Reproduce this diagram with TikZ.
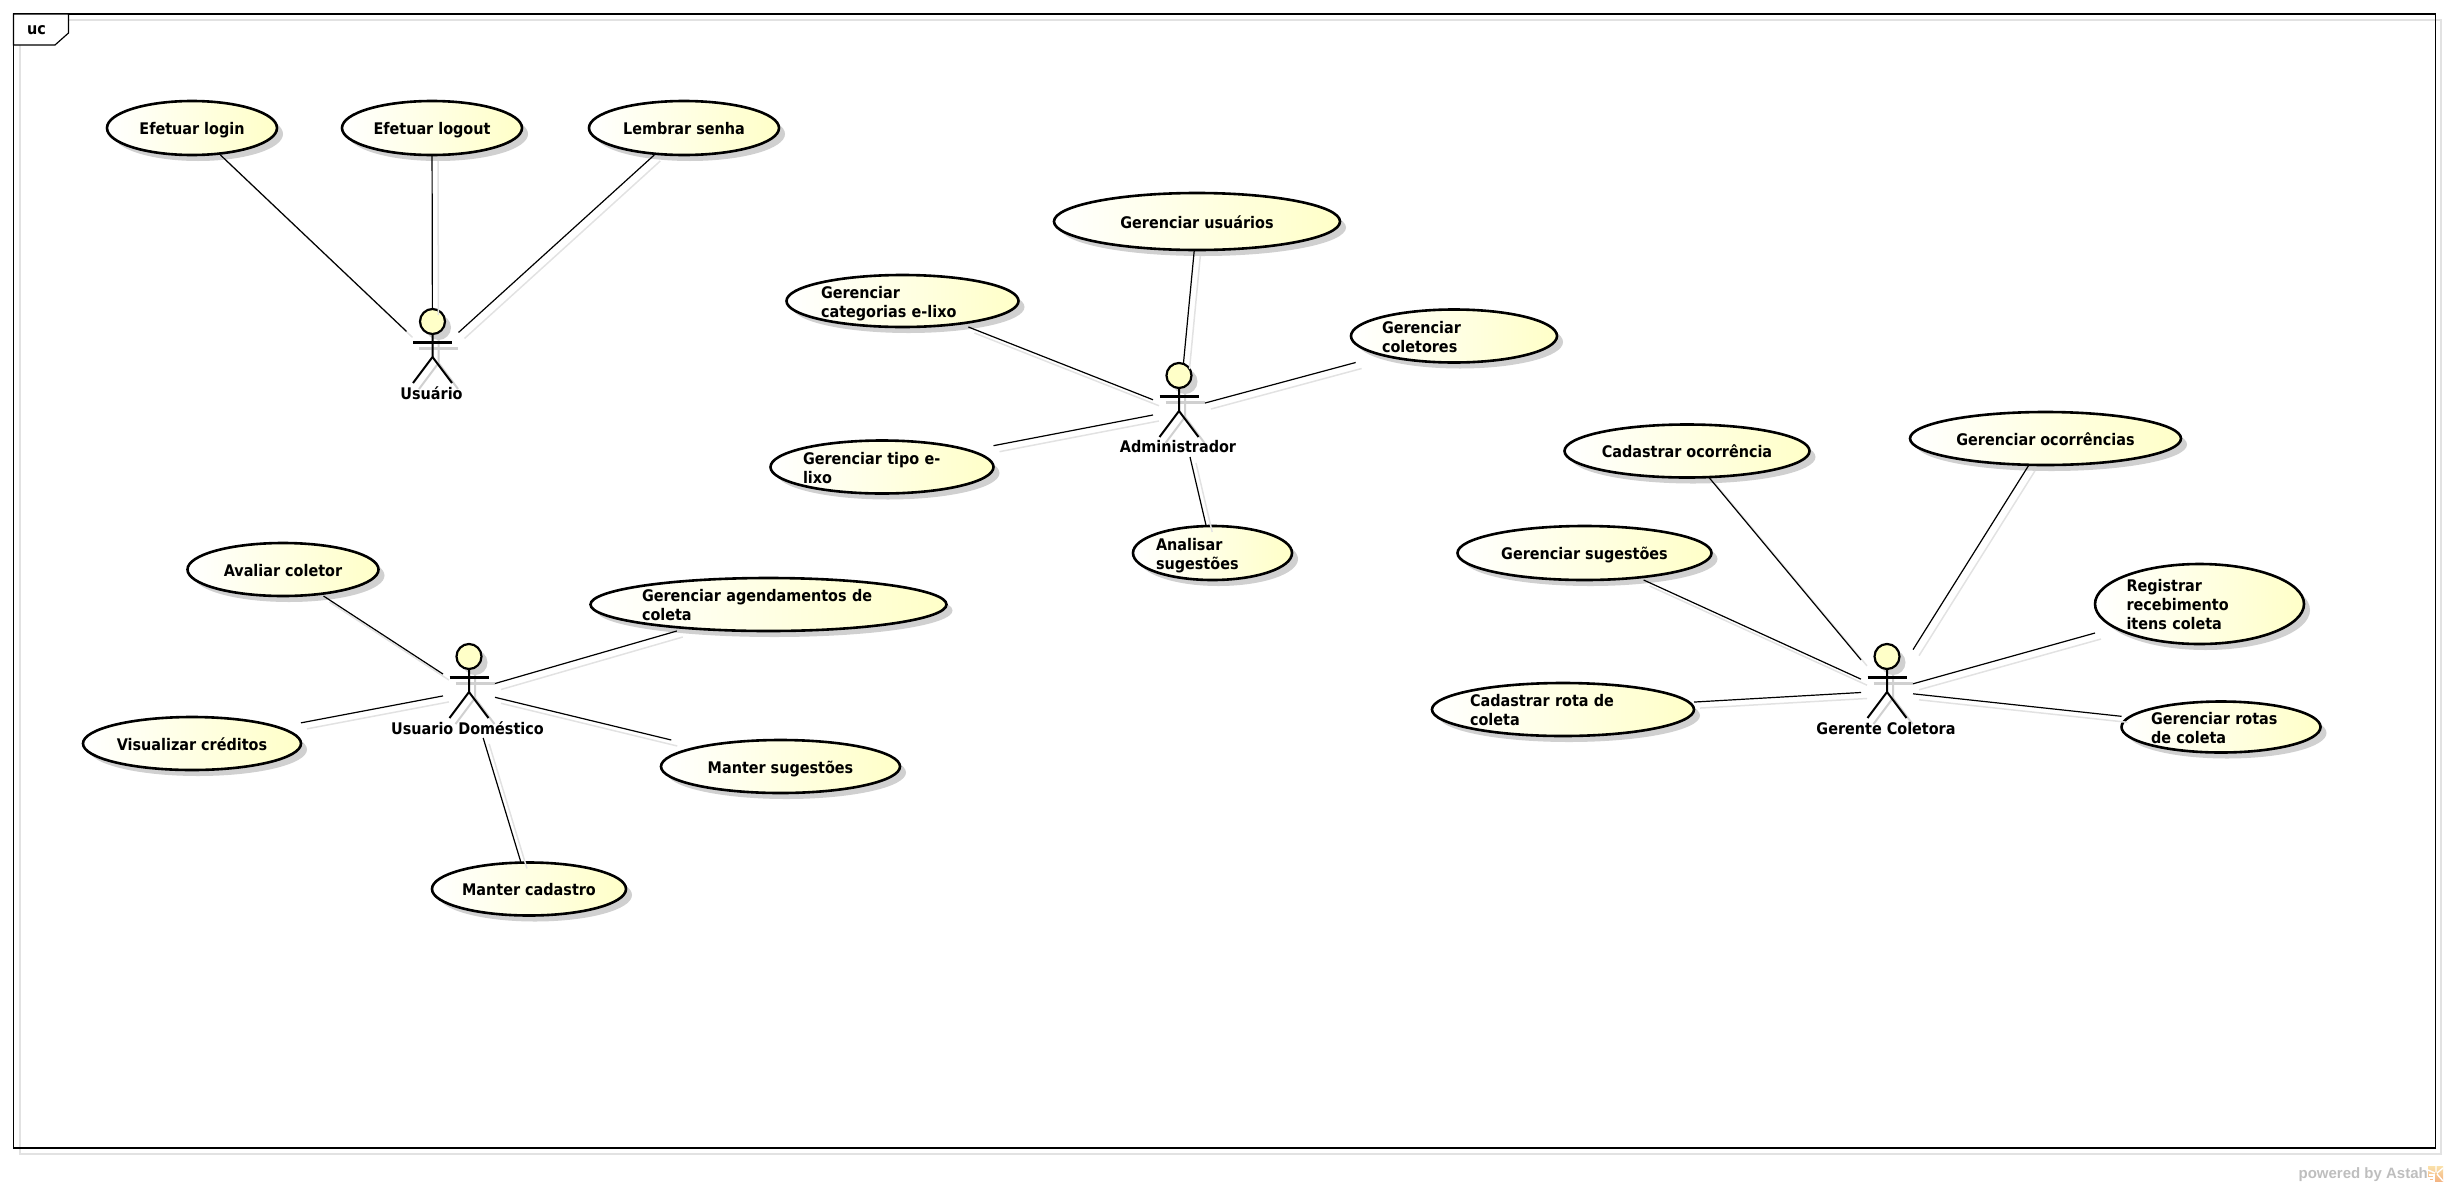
\documentclass[tikz,border=0pt]{standalone}
\usepackage{fontspec}
\setmainfont{DejaVu Sans Condensed}
\newfontfamily\astahfont{Liberation Sans}
\usepackage{tikz}
\usetikzlibrary{shapes.geometric,shadows,fit,positioning,calc}
\definecolor{ucyellow}{RGB}{255,255,200}
\definecolor{ucshadow}{RGB}{208,208,208}
\definecolor{ucrule}{RGB}{226,226,226}
\definecolor{astahgray}{RGB}{190,190,190}
\definecolor{astahorange}{RGB}{244,180,130}
\definecolor{astahyellow}{RGB}{250,225,170}
\tikzset{
  usecase/.style={ellipse,draw,line width=2.6pt,left color=white,right color=ucyellow,
    inner xsep=-4pt,inner ysep=-12pt,outer sep=0pt,font=\bfseries\fontsize{16}{19}\selectfont,
    execute at begin node=\rule[-4pt]{0pt}{21pt},execute at end node=\rule[-4pt]{0pt}{0pt},
    drop shadow={shadow xshift=6pt,shadow yshift=-6pt,fill=ucshadow,opacity=1}},
  ucbox/.style={rectangle,inner sep=0pt,outer sep=0pt},
  actorbox/.style={rectangle,minimum width=52pt,minimum height=94pt,inner sep=0pt,outer sep=0pt},
  actortext/.style={font=\bfseries\fontsize{16}{19}\selectfont,inner sep=0pt},
  assoc/.style={line width=1.2pt,preaction={draw=ucrule,line width=1.5pt,transform canvas={xshift=6pt,yshift=-6pt}}},
  stick/.pic={
    \begin{scope}[shift={(6,6)},draw=ucshadow,line width=2pt]
      \fill[ucshadow](0,12.5)circle(12.5pt);
      \draw[line width=3pt](-19.5,33)--(19.5,33);
      \draw(0,25)--(0,48)--(-19.5,74);
      \draw(0,48)--(19.5,74);
    \end{scope}
    \draw[line width=2.2pt,fill=ucyellow](0,12.5)circle(12.5pt);
    \draw[line width=3pt](-19.5,33)--(19.5,33);
    \draw[line width=2pt](0,25)--(0,48)--(-19.5,74);
    \draw[line width=2pt](0,48)--(19.5,74);
  }
}
\begin{document}
\begin{tikzpicture}[x=1pt,y=-1pt]
  \useasboundingbox(0,0)rectangle(2448,1186);
  % frame
  \draw[ucrule,line width=2pt](20,20)rectangle(2441,1154);
  \draw[line width=1.2pt](13.5,14)rectangle(2435.5,1148);
  \draw[line width=1.2pt,fill=white](13.5,14)--(68.5,14)--(68.5,33)--(55,45)--(13.5,45)--cycle;
  \node[actortext](uc)at(36.5,30.5){uc};

  % usuario
  \node[usecase,minimum width=170pt,minimum height=54pt](login)at(192,128){Efetuar login};
  \node[usecase,minimum width=180pt,minimum height=54pt](logout)at(432,128){Efetuar logout};
  \node[usecase,minimum width=190pt,minimum height=54pt](senha)at(684,128){Lembrar senha};
  \node[actorbox](usuario)at(432.5,356){};
  \pic at(usuario.north){stick};
  \node[actortext](usuariotxt)at(431.5,393){Usuário};
  \foreach \n in {login,logout,senha}{
    \node[ucbox,fit=(\n)](\n-b){};
    \draw[assoc](\n-b)--(usuario);
  }

  % administrador
  \node[usecase,minimum width=286pt,minimum height=57pt](usuarios)at(1197,221.5){Gerenciar usuários};
  \node[usecase,minimum width=232pt,minimum height=52pt,text width=163pt,align=left](categorias)at(902.5,301){Gerenciar\\categorias e-lixo};
  \node[usecase,minimum width=206pt,minimum height=53pt,text width=144pt,align=left](coletores)at(1454,336){Gerenciar\\coletores};
  \node[usecase,minimum width=223pt,minimum height=53pt,text width=158pt,align=left](tipo)at(882,467){Gerenciar tipo e-\\lixo};
  \node[usecase,minimum width=159pt,minimum height=54pt,text width=113pt,align=left](analisar)at(1212.5,553){Analisar\\sugestões};
  \node[actorbox](admin)at(1179,410){};
  \pic at(admin.north){stick};
  \node[actortext](admintxt)at(1178,447){Administrador};
  \foreach \n in {usuarios,categorias,coletores,tipo,analisar}{
    \node[ucbox,fit=(\n)](\n-b){};
    \draw[assoc](\n-b)--(admin);
  }

  % usuario domestico
  \node[usecase,minimum width=191pt,minimum height=53pt](avaliar)at(283,569.5){Avaliar coletor};
  \node[usecase,minimum width=356pt,minimum height=53pt,text width=253pt,align=left](agenda)at(768.5,604.5){Gerenciar agendamentos de\\coleta};
  \node[usecase,minimum width=218pt,minimum height=53pt](creditos)at(192,743.5){Visualizar créditos};
  \node[usecase,minimum width=239pt,minimum height=53pt](manter)at(780.5,766.5){Manter sugestões};
  \node[usecase,minimum width=194pt,minimum height=53pt](cadastro)at(529,889){Manter cadastro};
  \node[actorbox](domestico)at(469,691){};
  \pic at(domestico.north){stick};
  \node[actortext](domesticotxt)at(467.5,728){Usuario Doméstico};
  \foreach \n in {avaliar,agenda,creditos,manter,cadastro}{
    \node[ucbox,fit=(\n)](\n-b){};
    \draw[assoc](\n-b)--(domestico);
  }

  % gerente coletora
  \node[usecase,minimum width=245pt,minimum height=53pt](ocorrencia)at(1687,451){Cadastrar ocorrência};
  \node[usecase,minimum width=271pt,minimum height=53pt](ocorrencias)at(2045.5,438.5){Gerenciar ocorrências};
  \node[usecase,minimum width=254pt,minimum height=54pt](sugestoes)at(1584.5,553){Gerenciar sugestões};
  \node[usecase,minimum width=209pt,minimum height=80pt,text width=146pt,align=left](registrar)at(2199.5,604){Registrar\\recebimento\\itens coleta};
  \node[usecase,minimum width=262pt,minimum height=53pt,text width=186pt,align=left](rota)at(1563,709.5){Cadastrar rota de\\coleta};
  \node[usecase,minimum width=199pt,minimum height=51pt,text width=140pt,align=left](rotas)at(2221,727){Gerenciar rotas\\de coleta};
  \node[actorbox](gerente)at(1887,691){};
  \pic at(gerente.north){stick};
  \node[actortext](gerentetxt)at(1886,728.5){Gerente Coletora};
  \foreach \n in {ocorrencia,ocorrencias,sugestoes,registrar,rota,rotas}{
    \node[ucbox,fit=(\n)](\n-b){};
    \draw[assoc](\n-b)--(gerente);
  }

  % marca
  \node[font=\astahfont\bfseries\fontsize{15}{15}\selectfont,text=astahgray,inner sep=0pt,anchor=east](astah)at(2428,1175){powered by Astah};
  \shade[top color=astahyellow,bottom color=astahorange](2428,1166)rectangle(2443,1181);
  \draw[white,line width=1.4pt](2436,1166)--(2436,1172)(2428,1170)--(2435,1173)(2443,1168)--(2437,1173)(2437,1174)--(2443,1181);
  \draw[white,line width=1.4pt](2429,1175)--(2434,1175)--(2434,1181)--(2429,1181)--(2429,1178)--(2434,1178);
\end{tikzpicture}
\end{document}
